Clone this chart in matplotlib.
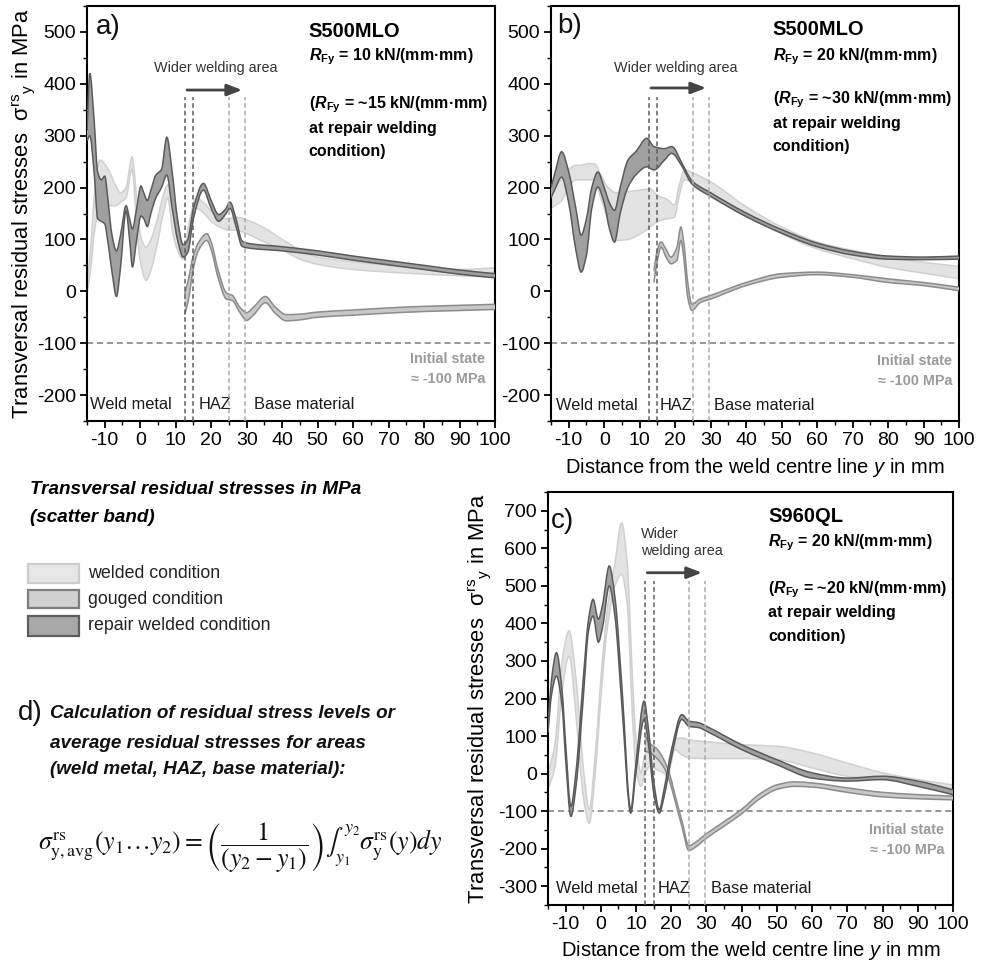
import numpy as np
import matplotlib
matplotlib.use("Agg")
import matplotlib.pyplot as plt
from matplotlib.patches import Rectangle, PathPatch
from matplotlib.path import Path

# ---------------- data ----------------
# Panel a) S500MLO, R_Fy = 10 kN/(mm*mm)
A_REP_X = [-15, -14.2, -13, -12, -11, -10, -9, -8, -6.7, -5.5, -4, -3, -2.2, -1, 0.2, 1, 2, 3, 4.4, 6,
           7.5, 9, 10.5, 12.1, 13.4, 15, 17.8, 20, 22.1, 24, 25.3, 27, 28.7, 30, 40, 50, 60, 70, 80, 90, 100]
A_REP_HI = [310, 420, 330, 230, 215, 222, 170, 110, 78, 110, 165, 140, 120, 160, 203, 190, 175, 195, 224, 235,
            297, 230, 140, 90, 100, 160, 208, 175, 148, 158, 172, 140, 97, 93, 86, 78, 68, 59, 50, 41, 34]
A_REP_LO = [290, 300, 230, 140, 135, 130, 90, 40, -10, 50, 155, 100, 47, 100, 145, 140, 125, 150, 180, 200,
            224, 160, 100, 66, 75, 140, 195, 160, 135, 148, 160, 125, 87, 84, 78, 70, 60, 51, 42, 33, 26]

A_WEL_X = [-15, -14, -13, -12, -11.3, -9, -7, -5.5, -4, -2.3, -1, 0, 1.7, 3, 5, 6.5, 7.8, 9, 10.5, 12,
           14, 15.8, 18, 20, 22.4, 25, 27, 29, 35, 40, 45, 50, 60, 70, 80, 90, 100]
A_WEL_HI = [15, 80, 180, 240, 253, 235, 205, 190, 200, 259, 180, 110, 85, 100, 143, 185, 205, 170, 110, 70,
            140, 180, 170, 155, 143, 140, 143, 140, 122, 100, 80, 66, 57, 50, 45, 42, 45]
A_WEL_LO = [-5, 40, 110, 150, 165, 165, 165, 172, 180, 235, 130, 60, 21, 40, 98, 150, 180, 120, 80, 62,
            110, 160, 150, 135, 124, 118, 118, 114, 95, 80, 62, 52, 42, 37, 33, 30, 27]

A_GOU_X = [12.5, 13.5, 15, 16.5, 18.8, 20, 22, 24.3, 26, 28, 30, 32, 35.3, 38, 41.2, 45, 50, 60, 70, 80, 90, 100]
A_GOU_HI = [-5, 20, 70, 95, 111, 95, 40, -3, -8, -30, -41, -30, -10, -30, -45, -44, -40, -36, -32, -29, -27, -25]
A_GOU_LO = [-45, -20, 45, 80, 98, 80, 25, -15, -18, -40, -56, -45, -22, -42, -57, -55, -50, -46, -42, -39, -37, -35]

# Panel b) S500MLO, R_Fy = 20 kN/(mm*mm)
B_REP_X = [-15, -14, -12, -10, -8, -6.5, -5, -3.5, -1.8, 0, 1.5, 2.9, 4.5, 6.7, 9, 12, 14, 17, 19, 22,
           24, 25, 30, 40, 50, 60, 70, 80, 90, 100]
B_REP_HI = [200, 225, 269, 230, 160, 108, 140, 200, 230, 200, 170, 156, 200, 253, 270, 295, 279, 275, 279, 246,
            220, 211, 190, 151, 119, 93, 77, 68, 66, 68]
B_REP_LO = [180, 195, 220, 170, 80, 37, 70, 160, 201, 170, 120, 95, 150, 201, 225, 240, 234, 253, 266, 240,
            214, 205, 183, 144, 112, 86, 70, 62, 61, 62]

B_WEL_X = [-15, -12, -10, -8, -6.5, -4.7, -2.8, -1, 1, 3.3, 6.7, 10, 13, 15, 18, 19.8, 21, 22.6, 25, 30,
           40, 50, 60, 70, 80, 90, 100]
B_WEL_HI = [200, 215, 235, 243, 243, 246, 246, 225, 201, 190, 192, 195, 197, 185, 176, 166, 200, 234, 228, 211,
            163, 124, 95, 79, 66, 56, 48]
B_WEL_LO = [160, 175, 200, 215, 215, 215, 215, 180, 140, 98, 100, 110, 124, 135, 140, 143, 180, 215, 210, 188,
            150, 111, 82, 63, 46, 35, 24]

B_GOU_X = [14, 15, 16, 17.5, 18.8, 20.5, 21.6, 22.5, 23.5, 24.7, 27, 30, 40, 50, 60, 70, 80, 90, 100]
B_GOU_HI = [40, 80, 95, 80, 66, 85, 124, 90, 20, -25, -15, -8, 17, 34, 37, 32, 24, 17, 8]
B_GOU_LO = [17, 60, 85, 65, 53, 60, 98, 60, -10, -37, -22, -15, 11, 27, 32, 27, 17, 11, 1]

# Panel c) S960QL, R_Fy = 20 kN/(mm*mm)
C_REP_X = [-15, -14, -12.6, -11, -10, -8.5, -7, -5, -3.5, -2.2, -0.7, 0.5, 2.4, 4, 6, 8.5, 10, 12.3, 13.5, 15,
           16.6, 18, 20, 23, 25, 28, 30, 40, 50, 60, 70, 80, 90, 100]
C_REP_HI = [130, 250, 322, 220, 80, -87, 10, 250, 410, 464, 411, 450, 553, 470, 230, -95, 30, 193, 120, -20,
            -96, -40, 60, 157, 140, 135, 126, 77, 37, 2, -12, -7, -20, -43]
C_REP_LO = [110, 210, 260, 180, 40, -114, -30, 200, 380, 420, 350, 390, 500, 420, 180, -105, 5, 144, 80, -50,
            -105, -60, 40, 144, 126, 122, 113, 64, 24, -12, -20, -16, -34, -56]

C_WEL_X = [-15, -13, -11, -9, -7, -5, -3.3, -1.5, 0, 2, 4, 5.9, 7.5, 9, 10, 11.4, 12.5, 14, 16, 18,
           19, 20, 21, 23, 25, 30, 40, 50, 60, 70, 80, 90, 100]
C_WEL_HI = [0, 80, 300, 380, 250, 20, -96, 60, 250, 450, 560, 668, 560, 250, 90, 2, 50, 60, 40, 20,
            10, 60, 90, 95, 90, 85, 77, 73, 55, 28, 2, -16, -30]
C_WEL_LO = [-43, 20, 220, 313, 150, -60, -132, 10, 200, 400, 500, 531, 450, 150, 10, -34, 0, 20, 10, 0,
            -10, 30, 64, 50, 42, 40, 40, 37, 15, -7, -16, -29, -45]

C_GOU_X = [12.5, 14, 16, 18, 19.5, 21, 23, 25, 27, 30, 35, 40, 45, 50, 55, 60, 70, 80, 90, 100]
C_GOU_HI = [100, 80, 65, 35, 0, -55, -125, -192, -182, -160, -128, -95, -55, -30, -22, -25, -38, -50, -56, -60]
C_GOU_LO = [60, 55, 40, 15, -20, -70, -140, -205, -195, -172, -140, -107, -68, -42, -34, -36, -50, -62, -67, -70]

ZONE_LINES = [12.5, 15, 25, 29.5]
INITIAL_STATE = -100
LEGEND_LABELS = ["welded condition", "gouged condition", "repair welded condition"]
X_TICKS = list(range(-10, 101, 10))

# ---------------- fonts ----------------
F = "Liberation Sans"
plt.rcParams["font.family"] = [F, "DejaVu Sans"]
plt.rcParams["axes.unicode_minus"] = False
plt.rcParams["mathtext.fontset"] = "custom"
plt.rcParams["mathtext.rm"] = F
plt.rcParams["mathtext.it"] = F + ":italic"
plt.rcParams["mathtext.bf"] = F + ":bold"
plt.rcParams["mathtext.bfit"] = F + ":bold:italic"

FILL = {"wel": "#e3e3e3", "gou": "#c8c8c8", "rep": "#a0a0a0"}
EDGE = {"wel": "#d0d0d0", "gou": "#8c8c8c", "rep": "#5a5a5a"}

W, H = 988, 964
fig = plt.figure(figsize=(W / 100, H / 100), dpi=100)


def fbox(l, t, r, b):
    return [l / W, 1 - b / H, (r - l) / W, (b - t) / H]


def slopes(x, y):
    """Monotone (PCHIP-type) tangents at the read points, used for smooth Bezier drawing."""
    h = np.diff(x)
    d = np.diff(y) / h
    m = np.zeros(len(x))
    m[0], m[-1] = d[0], d[-1]
    for k in range(1, len(x) - 1):
        if d[k - 1] * d[k] <= 0:
            m[k] = 0.0
        else:
            w1 = 2 * h[k] + h[k - 1]
            w2 = h[k] + 2 * h[k - 1]
            m[k] = (w1 + w2) / (w1 / d[k - 1] + w2 / d[k])
    return m


def bez_segments(x, y):
    x = np.asarray(x, float)
    y = np.asarray(y, float)
    m = slopes(x, y)
    segs = []
    for i in range(len(x) - 1):
        h = x[i + 1] - x[i]
        c1 = (x[i] + h / 3, y[i] + m[i] * h / 3)
        c2 = (x[i + 1] - h / 3, y[i + 1] - m[i + 1] * h / 3)
        segs.append((c1, c2, (x[i], y[i]), (x[i + 1], y[i + 1])))
    return segs


def curve_path(x, y):
    segs = bez_segments(x, y)
    verts = [segs[0][2]]
    codes = [Path.MOVETO]
    for c1, c2, p0, p1 in segs:
        verts += [c1, c2, p1]
        codes += [Path.CURVE4] * 3
    return Path(verts, codes)


def band_path(x, lo, hi):
    sh = bez_segments(x, hi)
    sl = bez_segments(x, lo)
    verts = [sh[0][2]]
    codes = [Path.MOVETO]
    for c1, c2, p0, p1 in sh:
        verts += [c1, c2, p1]
        codes += [Path.CURVE4] * 3
    verts.append(sl[-1][3])
    codes.append(Path.LINETO)
    for c1, c2, p0, p1 in reversed(sl):
        verts += [c2, c1, p0]
        codes += [Path.CURVE4] * 3
    verts.append((0, 0))
    codes.append(Path.CLOSEPOLY)
    return Path(verts, codes)


def band(ax, x, lo, hi, key, z):
    ax.add_patch(PathPatch(band_path(x, lo, hi), facecolor=FILL[key], edgecolor="none", zorder=z))
    for yy in (lo, hi):
        ax.add_patch(PathPatch(curve_path(x, yy), fill=False, edgecolor=EDGE[key], lw=1.1, zorder=z + 0.1))


def setup(ax, ymin, ymax, ytick_lo, ytick_hi):
    ax.set_xlim(-15, 100)
    ax.set_ylim(ymin, ymax)
    ax.set_xticks(X_TICKS)
    ax.set_xticks(np.arange(-15, 101, 5), minor=True)
    ax.set_yticks(np.arange(ytick_lo, ytick_hi + 1, 100))
    ax.set_yticks(np.arange(ymin, ymax + 1, 50), minor=True)
    ax.tick_params(which="major", direction="out", length=5, width=1.3, labelsize=14, pad=3)
    ax.tick_params(which="minor", direction="out", length=3, width=1.0)
    for s in ax.spines.values():
        s.set_linewidth(1.5)


def decorate(ax, p, title, rfy, rfy_rep, ytop_lines, arrow_y, wider_pos, wider_text, wider_ha,
             init_x, init_y, region_y, region_x, label_pos, title_ys):
    for i, xv in enumerate(ZONE_LINES):
        ax.plot([xv, xv], [ax.get_ylim()[0], ytop_lines], ls=(0, (3, 2)), lw=1.1,
                color="#5f5f5f" if i < 2 else "#ababab", zorder=6)
    ax.axhline(INITIAL_STATE, ls=(0, (4, 2.5)), lw=1.1, color="#7a7a7a", zorder=1)
    ax.annotate("", xy=(29.5, arrow_y), xytext=(12.4, arrow_y),
                arrowprops=dict(arrowstyle="-|>,head_length=0.9,head_width=0.35", color="#444444", lw=2.0),
                zorder=7)
    ax.text(wider_pos[0], wider_pos[1], wider_text, ha=wider_ha, va="center", fontsize=10.4,
            color="#333333", linespacing=1.25)
    ax.text(label_pos[0], label_pos[1], p, fontsize=20, va="center", ha="left", color="#111111")
    ax.text(47.5, title_ys[0], title, fontsize=14.5, fontweight="bold", va="center", ha="left")
    kw = dict(fontsize=11.5, fontweight="bold", va="center", ha="left")
    ax.text(47.5, title_ys[1], r"$\mathbfit{R}_{\mathbf{Fy}}$ = " + rfy + " kN/(mm·mm)", **kw)
    ax.text(47.5, title_ys[2], r"($\mathbfit{R}_{\mathbf{Fy}}$ = ~" + rfy_rep + " kN/(mm·mm)", **kw)
    ax.text(47.5, title_ys[3], "at repair welding", **kw)
    ax.text(47.5, title_ys[4], "condition)", **kw)
    ax.text(init_x, init_y[0], "Initial state", fontsize=10.4, fontweight="bold", color="#9a9a9a",
            ha="right", va="center")
    ax.text(init_x, init_y[1], "≈ -100 MPa", fontsize=10.4, fontweight="bold", color="#9a9a9a",
            ha="right", va="center")
    for txt, xv in zip(["Weld metal", "HAZ", "Base material"], region_x):
        ax.text(xv, region_y, txt, fontsize=11.8, ha="left", va="center", color="#1a1a1a")


YLAB = r"Transversal residual stresses  $\mathrm{\sigma}^{\mathrm{rs}}{}_{\mathrm{y}}$ in MPa"
XLAB = r"Distance from the weld centre line $\mathit{y}$ in mm"

# ---- panel a ----
axa = fig.add_axes(fbox(87, 6, 495, 421))
setup(axa, -250, 550, -200, 500)
band(axa, A_WEL_X, A_WEL_LO, A_WEL_HI, "wel", 2)
band(axa, A_GOU_X, A_GOU_LO, A_GOU_HI, "gou", 3)
band(axa, A_REP_X, A_REP_LO, A_REP_HI, "rep", 4)
decorate(axa, "a)", "S500MLO", "10", "15", 375, 388, (21.3, 430), "Wider welding area", "center",
         97.2, (-131, -169), -218, [-14.1, 16.6, 32], (-12.4, 510), [501, 453, 359, 314, 269])
axa.set_ylabel(YLAB, fontsize=15.8)
axa.yaxis.set_label_coords(-0.123, 0.5)

# ---- panel b ----
axb = fig.add_axes(fbox(551, 6, 959, 421))
setup(axb, -250, 550, -200, 500)
band(axb, B_WEL_X, B_WEL_LO, B_WEL_HI, "wel", 2)
band(axb, B_GOU_X, B_GOU_LO, B_GOU_HI, "gou", 3)
band(axb, B_REP_X, B_REP_LO, B_REP_HI, "rep", 4)
decorate(axb, "b)", "S500MLO", "20", "30", 375, 392, (20.2, 430), "Wider welding area", "center",
         98.1, (-134, -173), -221, [-13.6, 15.5, 31], (-13.2, 511), [505, 453, 369, 324, 279])
axb.set_xlabel(XLAB, fontsize=14.5, labelpad=5)

# ---- panel c ----
axc = fig.add_axes(fbox(548, 492, 953, 905))
setup(axc, -350, 750, -300, 700)
band(axc, C_WEL_X, C_WEL_LO, C_WEL_HI, "wel", 2)
band(axc, C_GOU_X, C_GOU_LO, C_GOU_HI, "gou", 3)
band(axc, C_REP_X, C_REP_LO, C_REP_HI, "rep", 4)
decorate(axc, "c)", "S960QL", "20", "20", 513, 535, (11.4, 616), "Wider\nwelding area", "left",
         97.5, (-149, -203), -307, [-12.8, 16.1, 31.3], (-14.2, 673), [686, 615, 491, 428, 366])
axc.set_ylabel(YLAB, fontsize=15.8)
axc.yaxis.set_label_coords(-0.136, 0.5)
axc.set_xlabel(XLAB, fontsize=14.5, labelpad=4)

# ---- legend / text block ----
fig.text(30 / W, 1 - 490 / H, "Transversal residual stresses in MPa", fontsize=13.6,
         fontweight="bold", fontstyle="italic", va="center", ha="left")
fig.text(30 / W, 1 - 518 / H, "(scatter band)", fontsize=13.6,
         fontweight="bold", fontstyle="italic", va="center", ha="left")
LEG_FILL = ["#e6e6e6", "#d0d0d0", "#a8a8a8"]
LEG_EDGE = ["#cdcdcd", "#7e7e7e", "#5e5e5e"]
LEG_Y = [(564, 583), (590, 608), (616, 636)]
for lab, fc, ec, (t, b) in zip(LEGEND_LABELS, LEG_FILL, LEG_EDGE, LEG_Y):
    l, r = 28, 79
    fig.add_artist(Rectangle((l / W, 1 - b / H), (r - l) / W, (b - t) / H, transform=fig.transFigure,
                             facecolor=fc, edgecolor=ec, lw=1.6))
    fig.text(88 / W, 1 - (t + b) / 2 / H, lab, fontsize=12.8, va="center", ha="left", color="#222222")

fig.text(18 / W, 1 - 713 / H, "d)", fontsize=20, va="center", ha="left", color="#111111")
for txt, yy in zip(["Calculation of residual stress levels or",
                    "average residual stresses for areas",
                    "(weld metal, HAZ, base material):"], [713, 743, 770]):
    fig.text(50 / W, 1 - yy / H, txt, fontsize=13.6, fontweight="bold", fontstyle="italic",
             va="center", ha="left", color="#111111")

FORMULA = (r"$\sigma^{\rm rs}_{\rm y,avg}(y_1\ldots y_2) = \left(\dfrac{1}{(y_2 - y_1)}\right)"
           r"\int_{y_1}^{y_2}\sigma^{\rm rs}_{\rm y}(y)dy$")
fig.text(38 / W, 1 - 848 / H, FORMULA, fontsize=18.5, math_fontfamily="stix", va="center", ha="left",
         color="#111111")

fig.savefig("out.png", dpi=100)
